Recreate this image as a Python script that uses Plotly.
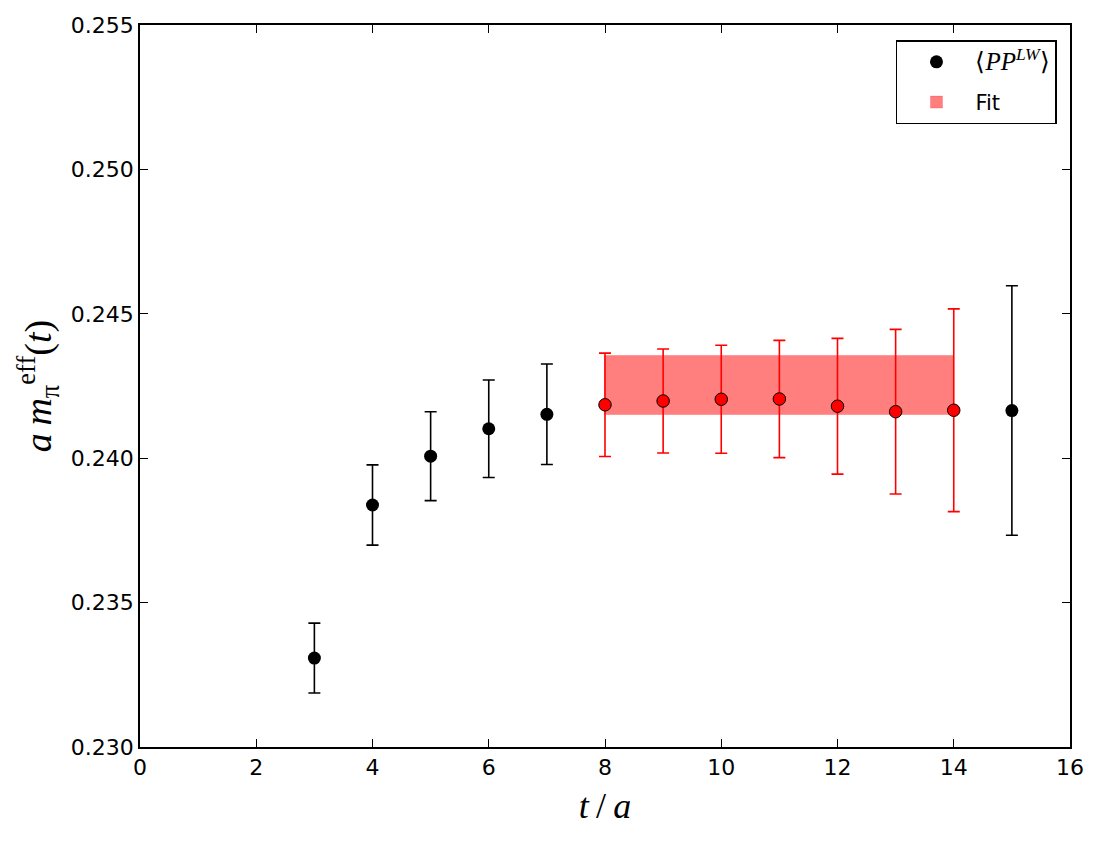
import plotly.graph_objects as go

t = [3, 4, 5, 6, 7, 8, 9, 10, 11, 12, 13, 14, 15]
meff = [0.23308, 0.23838, 0.24007, 0.24102, 0.24152, 0.24185, 0.24198, 0.24204,
        0.24205, 0.24180, 0.24161, 0.24166, 0.24165]
err = [0.00121, 0.00139, 0.00154, 0.00169, 0.00174, 0.00179, 0.00180, 0.00187,
       0.00203, 0.00235, 0.00285, 0.00351, 0.00432]
fit_range = [8, 14]
fit_lo = 0.24151
fit_hi = 0.24354

in_fit = [fit_range[0] <= x <= fit_range[1] for x in t]
bt = [x for x, f in zip(t, in_fit) if not f]
bm = [y for y, f in zip(meff, in_fit) if not f]
be = [e for e, f in zip(err, in_fit) if not f]
rt = [x for x, f in zip(t, in_fit) if f]
rm = [y for y, f in zip(meff, in_fit) if f]
re_ = [e for e, f in zip(err, in_fit) if f]

fig = go.Figure()
fig.add_trace(go.Bar(
    x=[(fit_range[0] + fit_range[1]) / 2], y=[fit_hi - fit_lo], base=[fit_lo],
    width=[fit_range[1] - fit_range[0]],
    marker=dict(color="rgba(255,0,0,0.5)", line=dict(color="rgba(255,0,0,0.2)", width=1)),
    name="Fit", legendrank=2, legendgroup="b", hoverinfo="skip"))
fig.add_trace(go.Scatter(
    x=bt, y=bm, mode="markers",
    name="<span style=\"font-family:'Liberation Serif';font-size:25px\">⟨<i>PP</i><sup><i>LW</i></sup>⟩</span>",
    legendrank=1, legendgroup="a",
    marker=dict(color="black", size=13),
    error_y=dict(type="data", array=be, color="black", thickness=1.6, width=6)))
fig.add_trace(go.Scatter(
    x=rt, y=rm, mode="markers", showlegend=False,
    marker=dict(color="red", size=12.5, line=dict(color="black", width=1)),
    error_y=dict(type="data", array=re_, color="red", thickness=1.6, width=6)))

axis_common = dict(showline=True, linecolor="black", linewidth=1.5, mirror="allticks",
                   ticks="inside", ticklen=8, tickwidth=1, tickcolor="black",
                   showgrid=False, zeroline=False,
                   tickfont=dict(family="DejaVu Sans", size=22, color="black"))
fig.update_xaxes(range=[0, 16], dtick=2, tick0=0,
                 title=dict(text="<i>t</i>\u2009/\u2009<i>a</i>",
                            font=dict(family="Liberation Serif", size=36, color="black"), standoff=14),
                 **axis_common)
fig.update_yaxes(range=[0.230, 0.255], dtick=0.005, tick0=0.230, tickformat=".3f",
                 title=dict(text="<i>a\u2009m</i><sub>π</sub><sup>eff</sup>(<i>t</i>)",
                            font=dict(family="Liberation Serif", size=38, color="black"), standoff=8),
                 **axis_common)
fig.update_layout(
    width=1100, height=845, plot_bgcolor="white", paper_bgcolor="white",
    margin=dict(l=140, r=30, t=25, b=98),
    showlegend=True, bargap=0,
    legend=dict(x=0.986, y=0.979, xanchor="right", yanchor="top",
                bordercolor="black", borderwidth=1.5, bgcolor="white",
                font=dict(family="DejaVu Sans", size=21, color="black"),
                itemwidth=68, tracegroupgap=10),
)
fig.write_html("out.html")
